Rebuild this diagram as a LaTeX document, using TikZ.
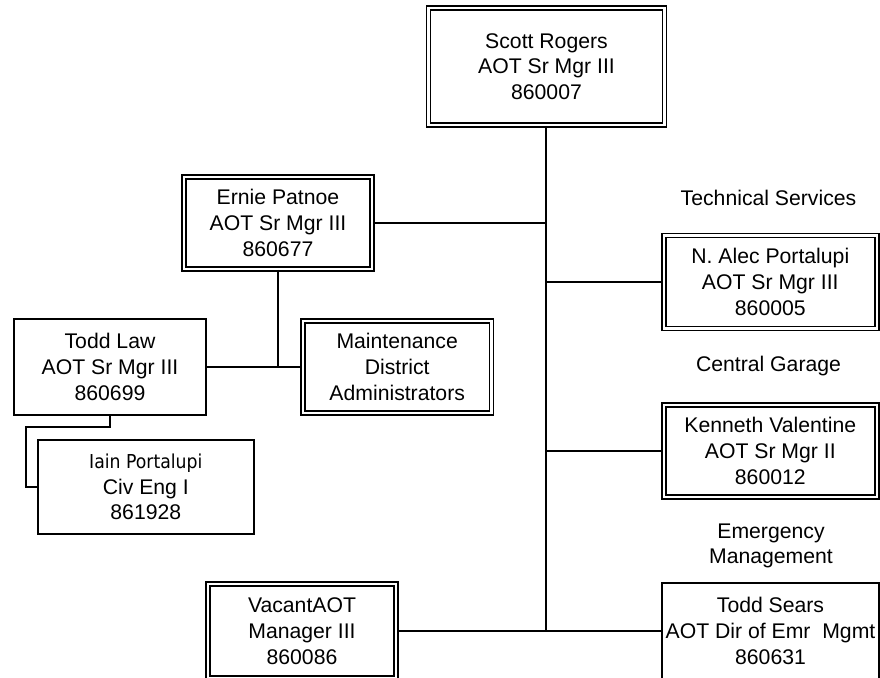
\documentclass[tikz,border=0pt]{standalone}
\usepackage{fontspec}
\setmainfont{Liberation Sans}
\newfontfamily\iainfont{DejaVu Sans Condensed}
\begin{document}
\begin{tikzpicture}[x=1pt,y=-1pt,
  txt/.style={font=\fontsize{21.2}{25.7}\selectfont, align=center, inner sep=0pt},
  dbox/.style={txt, draw, line width=1.8pt, double, double distance=2.2pt, minimum width=#1},
  dbox/.default=188.6pt,
  sbox/.style={txt, draw, line width=1.8pt},
  conn/.style={line width=2pt}
]
\useasboundingbox (0,0) rectangle (880,677);
\clip (0,0) rectangle (880,677);

% double boxes
\node[dbox=236pt, minimum height=117pt] (scott) at (546.5,66.5) {Scott Rogers\\ AOT Sr Mgr III\\860007};
\node[dbox, minimum height=92pt] (ernie) at (278,223) {Ernie Patnoe\\AOT Sr Mgr III\\860677};
\node[dbox, minimum height=92.7pt] (maint) at (397.2,367) {Maintenance\\District\\Administrators};
\node[dbox=213.3pt, minimum height=93pt] (alec) at (770.3,282) {N. Alec Portalupi\\AOT Sr Mgr III\\860005};
\node[dbox=213.3pt, minimum height=92.3pt] (kenneth) at (770.3,451) {Kenneth Valentine\\AOT Sr Mgr II\\860012};
\node[dbox, minimum height=93.7pt] (vacant) at (302,631) {VacantAOT\\Manager III\\860086};

% single boxes
\node[sbox, minimum width=192.3pt, minimum height=96pt] (toddlaw) at (110,367) {Todd Law\\AOT Sr Mgr III\\860699};
\node[sbox, minimum width=216.3pt, minimum height=94pt] (iain) at (145.8,487) {{\iainfont\fontsize{19.2}{25.7}\selectfont Iain Portalupi}\\Civ Eng I\\861928};
\node[sbox, minimum width=217pt, minimum height=96pt] (sears) at (770.5,631) {Todd Sears\\AOT Dir of Emr\ \ Mgmt\\860631};

% labels
\node[txt] (tech) at (768.5,197.6) {Technical Services};
\node[txt] (garage) at (768.5,365.8) {Central Garage};
\node[txt] (emerg) at (771,546) {Emergency\\Management};

% connectors
\coordinate (trunkbot) at (546,631);
\coordinate (jE) at (546,223);
\coordinate (jA) at (546,282);
\coordinate (jK) at (546,451);
\coordinate (jM) at (278,367);
\coordinate (t1) at (110,427);
\coordinate (t2) at (26,427);
\coordinate (t3) at (26,487);

\draw[conn] (scott.south -| trunkbot) -- (trunkbot);
\draw[conn] (ernie.east) -- (jE);
\draw[conn] (alec.west) -- (jA);
\draw[conn] (kenneth.west) -- (jK);
\draw[conn] (vacant.east) -- (sears.west);
\draw[conn] (ernie.south) -- (jM);
\draw[conn] (toddlaw.east) -- (maint.west);
\draw[conn] (toddlaw.south) -- (t1) -- (t2) -- (t3) -- (iain.west |- t3);
\end{tikzpicture}
\end{document}
